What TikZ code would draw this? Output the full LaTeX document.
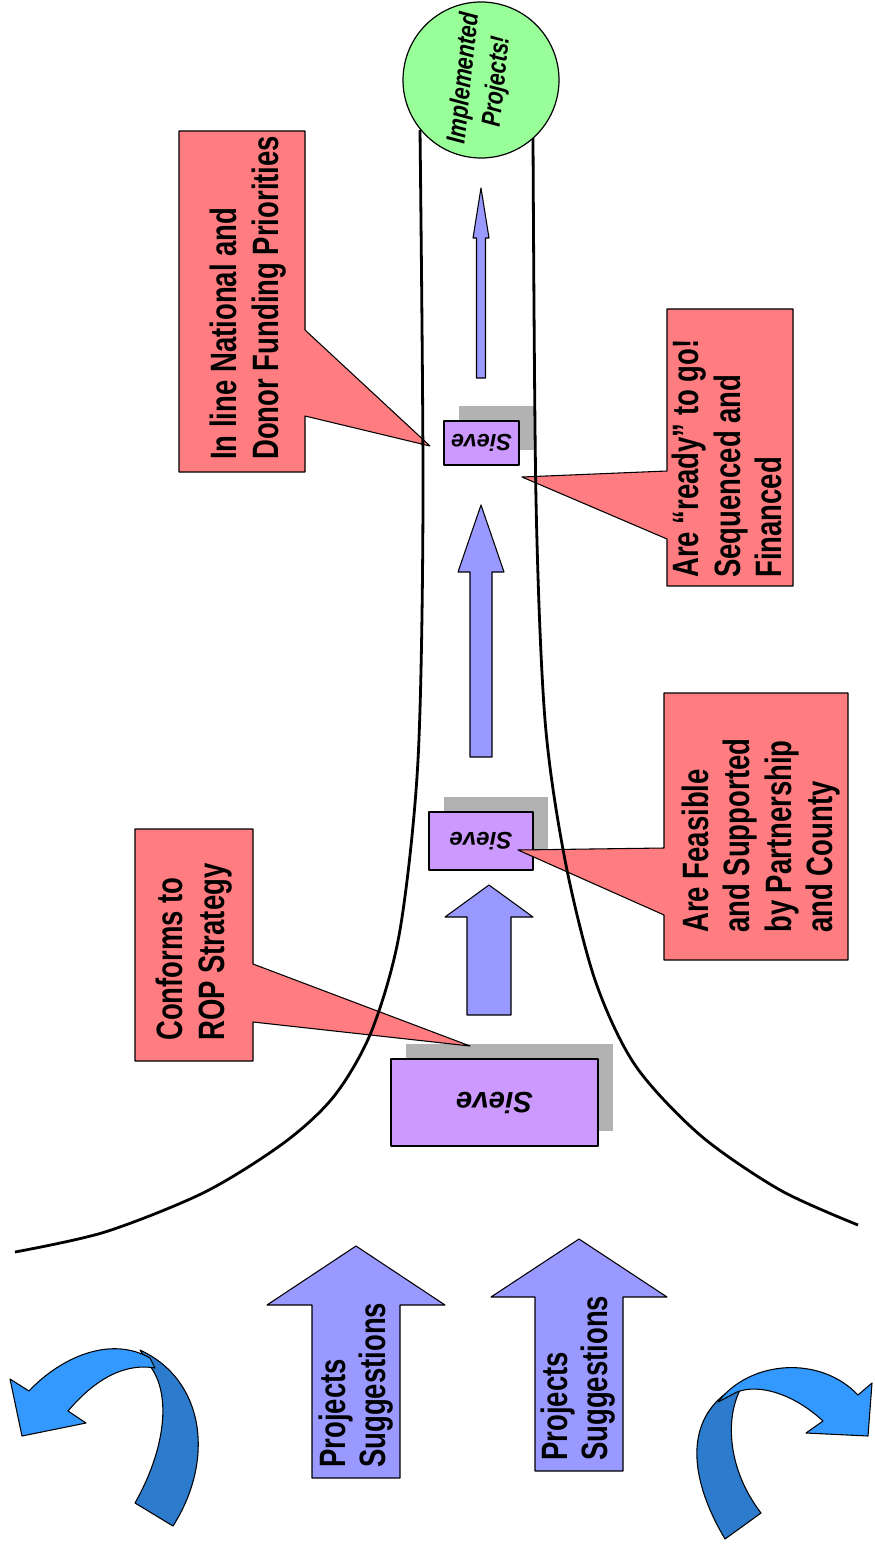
\documentclass[tikz,border=0pt]{standalone}
\usepackage{fontspec}
\setmainfont{Liberation Sans}
\newfontfamily\tagfont[FakeStretch=0.75]{Liberation Sans}
\newfontfamily\goalfont[FakeStretch=0.8]{Liberation Sans}
\definecolor{tagred}{HTML}{FF7C80}
\definecolor{sievelilac}{HTML}{CC99FF}
\definecolor{shadowgrey}{HTML}{B2B2B2}
\definecolor{flowblue}{HTML}{9999FF}
\definecolor{goalgreen}{HTML}{99FF99}
\definecolor{swirllight}{HTML}{3399FF}
\definecolor{swirldark}{HTML}{2C7BCC}
\tikzset{
  wall/.style={line width=2.1pt},
  tagbox/.style={draw, fill=tagred, line width=0.8pt},
  tagtext/.style={rotate=90, anchor=west, align=left, inner sep=0pt, font=\tagfont\bfseries\fontsize{27.5}{31}\selectfont},
  sievebox/.style={draw, fill=sievelilac, line width=0.9pt, rotate=180, inner sep=0pt},
  flow/.style={draw, fill=flowblue, line width=0.8pt},
  swirl/.style={draw, line width=0.8pt},
}
\begin{document}
\begin{tikzpicture}[x=0.75pt, y=-0.75pt, line join=round]
\useasboundingbox (0,0) rectangle (874,1551);
% sieves and their shadows
\foreach \n/\cx/\cy/\w/\h/\fs in {A/494.5/1102.5/207/87/22, B/481/841/104/58/18, C/481.5/443/75/44/17.5}{
  \fill[shadowgrey] (\cx-\w/2+15,\cy-\h/2-15) rectangle ++(\w,\h);
  \node[sievebox, minimum width=0.75pt*\w, minimum height=0.75pt*\h, font=\bfseries\itshape\fontsize{\fs}{\fs}\selectfont] (sieve\n) at (\cx,\cy) {Sieve};
}
% block arrows
\foreach \ax/\ay/\hy/\hw/\sw/\by in {481/188/238/8/4.5/378, 481/505/572/23/11/757, 489/885/917/44/22/1015, 356/1246/1305/89/44/1478, 579/1239/1297/88/44/1471}
  \draw[flow] (\ax,\ay) -- (\ax+\hw,\hy) -- (\ax+\sw,\hy) -- (\ax+\sw,\by) -- (\ax-\sw,\by) -- (\ax-\sw,\hy) -- (\ax-\hw,\hy) -- cycle;
\node[tagtext, font=\tagfont\bfseries\fontsize{27.5}{29.5}\selectfont] (sugL) at (356,1468) {Projects\\Suggestions};
\node[tagtext, font=\tagfont\bfseries\fontsize{27.5}{29.5}\selectfont] (sugR) at (578,1461) {Projects\\Suggestions};
% swirls
\draw[swirl, fill=swirldark] (140,1350) .. controls (205,1380) and (215,1460) .. (173,1526) -- (135,1503) .. controls (165,1450) and (172,1395) .. (150,1366) -- cycle;
\draw[swirl, fill=swirllight] (29,1391) .. controls (60,1358) and (110,1335) .. (150,1358) -- (155,1368) .. controls (120,1362) and (90,1385) .. (68,1411) -- (86,1423) -- (22,1436) -- (10,1379) -- cycle;
\draw[swirl, fill=swirldark] (725,1539) .. controls (690,1480) and (685,1425) .. (725,1394) -- (740,1390) .. controls (725,1420) and (728,1470) .. (761,1513) -- cycle;
\draw[swirl, fill=swirllight] (718,1402) .. controls (750,1360) and (820,1355) .. (858,1395) -- (872,1383) -- (868,1436) -- (806,1433) -- (823,1421) .. controls (795,1395) and (760,1383) .. (737,1392) -- cycle;
% callouts
\draw[tagbox] (179,131) -- (305,131) -- (305,330) -- (430,446) -- (305,416) -- (305,472) -- (179,472) -- cycle;
\node[tagtext] (tagDonor) at (248,460) {In line National and\\Donor Funding Priorities};
\draw[tagbox] (667,309) -- (793,309) -- (793,586) -- (667,586) -- (667,539) -- (522,477) -- (667,471) -- cycle;
\node[tagtext] (tagReady) at (727,578) {Are “ready” to go!\\Sequenced and\\Financed};
\draw[tagbox] (135,829) -- (253,829) -- (253,964) -- (470,1046) -- (253,1022) -- (253,1061) -- (135,1061) -- cycle;
\node[tagtext] (tagRop) at (194,1041) {Conforms to\\ROP Strategy};
\draw[tagbox] (664,693) -- (848,693) -- (848,960) -- (664,960) -- (664,915) -- (518,850) -- (664,848) -- cycle;
\node[tagtext] (tagFeasible) at (761,933) {Are Feasible\\and Supported\\by Partnership\\and County};
% funnel
\draw[wall] plot[smooth] coordinates {(420,130) (423,500) (418,760) (400,930) (372,1030) (335,1095) (285,1142) (205,1192) (105,1232) (15,1252)};
\draw[wall] plot[smooth] coordinates {(533,138) (536,500) (545,720) (565,860) (595,980) (635,1065) (700,1135) (780,1190) (858,1225)};
\node[circle, draw, fill=goalgreen, line width=0.9pt, minimum size=117pt, inner sep=0pt, rotate=84, align=center, font=\goalfont\bfseries\itshape\fontsize{20}{25}\selectfont] (goal) at (481,80) {Implemented\\Projects!};
\end{tikzpicture}
\end{document}
